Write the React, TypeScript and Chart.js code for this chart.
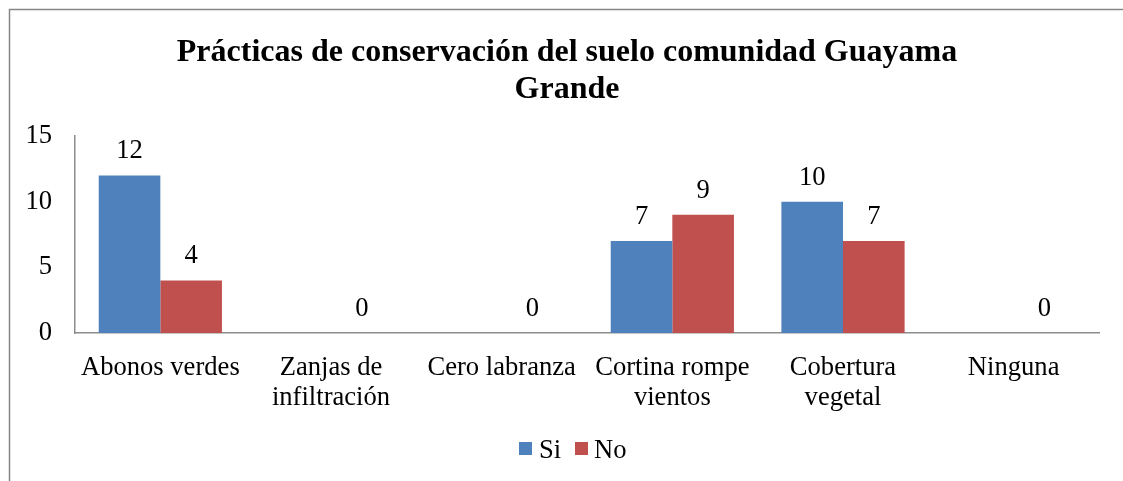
import React, { useEffect, useRef } from "react";
import { Chart, registerables } from "chart.js";

Chart.register(...registerables);

const categories: (string | string[])[] = [
  "Abonos verdes",
  ["Zanjas de", "infiltración"],
  "Cero labranza",
  ["Cortina rompe", "vientos"],
  ["Cobertura", "vegetal"],
  "Ninguna",
];
const siValues: (number | null)[] = [12, null, null, 7, 10, null];
const noValues: (number | null)[] = [4, 0, 0, 9, 7, 0];
const yTicks = { min: 0, max: 15, step: 5 };
const titleLines = ["Prácticas de conservación del suelo comunidad Guayama", "Grande"];
const seriesNames = ["Si", "No"];
const seriesColors = ["#4F81BD", "#C0504D"];

const FONT = "'Liberation Serif', 'Times New Roman', serif";
const FS = 26.6;

const decorPlugin = {
  id: "decor",
  beforeDraw(chart: any) {
    const ctx = chart.ctx;
    ctx.save();
    ctx.fillStyle = "#ffffff";
    ctx.fillRect(0, 0, chart.width, chart.height);
    ctx.strokeStyle = "#868686";
    ctx.lineWidth = 1.5;
    ctx.beginPath();
    ctx.moveTo(9.5, chart.height);
    ctx.lineTo(9.5, 9.5);
    ctx.lineTo(chart.width, 9.5);
    ctx.stroke();
    // title
    ctx.fillStyle = "#000";
    ctx.font = `bold 32px ${FONT}`;
    ctx.textAlign = "center";
    ctx.textBaseline = "middle";
    ctx.fillText(titleLines[0], 567, 53);
    ctx.fillText(titleLines[1], 567, 90);
    ctx.restore();
  },
  afterDatasetsDraw(chart: any) {
    const ctx = chart.ctx;
    ctx.save();
    ctx.fillStyle = "#000";
    ctx.font = `${FS}px ${FONT}`;
    ctx.textAlign = "center";
    ctx.textBaseline = "middle";
    chart.data.datasets.forEach((ds: any, di: number) => {
      const meta = chart.getDatasetMeta(di);
      meta.data.forEach((el: any, i: number) => {
        const v = ds.data[i];
        if (v === null || v === undefined) return;
        ctx.fillText(String(v), el.x, el.y - 24);
      });
    });
    // legend
    const items = [
      { box: 519, text: 539 },
      { box: 575, text: 594 },
    ];
    ctx.textAlign = "left";
    ctx.textBaseline = "alphabetic";
    items.forEach((it, i) => {
      ctx.fillStyle = seriesColors[i];
      ctx.fillRect(it.box, 442, 13, 13);
      ctx.fillStyle = "#000";
      ctx.fillText(seriesNames[i], it.text, 458);
    });
    ctx.restore();
  },
};

export default function App() {
  const ref = useRef<HTMLCanvasElement | null>(null);
  useEffect(() => {
    if (!ref.current) return;
    const chart = new Chart(ref.current, {
      type: "bar",
      data: {
        labels: categories,
        datasets: [
          {
            label: seriesNames[0],
            data: siValues,
            backgroundColor: seriesColors[0],
            categoryPercentage: 0.722,
            barPercentage: 1,
          },
          {
            label: seriesNames[1],
            data: noValues,
            backgroundColor: seriesColors[1],
            categoryPercentage: 0.722,
            barPercentage: 1,
          },
        ],
      },
      options: {
        responsive: false,
        animation: false,
        layout: { padding: { left: 0, right: 24, top: 136, bottom: 0 } },
        plugins: {
          legend: { display: false },
          title: { display: false },
          tooltip: { enabled: false },
        },
        scales: {
          x: {
            grid: { display: false, drawTicks: false },
            border: { display: true, color: "#8c8c8c", width: 1.5 },
            ticks: {
              color: "#000",
              font: { family: FONT, size: FS, lineHeight: 1.13 },
              padding: 20,
              maxRotation: 0,
              autoSkip: false,
            },
            afterFit(scale: any) {
              scale.height = 148;
            },
          },
          y: {
            min: yTicks.min,
            max: yTicks.max,
            grid: { display: false, drawTicks: false },
            border: { display: true, color: "#8c8c8c", width: 1.5 },
            ticks: {
              stepSize: yTicks.step,
              color: "#000",
              font: { family: FONT, size: FS },
              padding: 23,
            },
            afterFit(scale: any) {
              scale.width = 75;
            },
          },
        },
      },
      plugins: [decorPlugin],
    });
    return () => chart.destroy();
  }, []);
  return (
    <div style={{ position: "absolute", left: 0, top: 0, width: 1123, height: 481 }}>
      <canvas ref={ref} width={1123} height={481} style={{ display: "block" }} />
    </div>
  );
}
